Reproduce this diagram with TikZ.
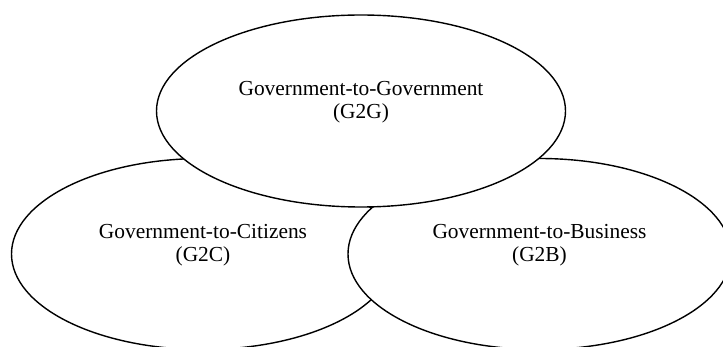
\documentclass[tikz,border=0pt]{standalone}
\usepackage{fontspec}
\setmainfont{Liberation Serif}
\usetikzlibrary{shapes.geometric}
\begin{document}
\begin{tikzpicture}[x=1pt,y=-1pt,
  oval/.style={ellipse, draw=black, fill=white, line width=1.4pt, inner sep=0pt},
  lower/.style={oval, minimum width=383pt, minimum height=191pt},
  caption/.style={align=center, font=\fontsize{21.4}{23}\selectfont, inner sep=0pt}]
\useasboundingbox (0,0) rectangle (723,347);
\clip (0,0) rectangle (723,347);
% the two lower ovals first, the upper one overlaps both
\node[lower] (g2c) at (203,254) {};
\node[lower] (g2b) at (539.5,254) {};
\node[oval, minimum width=409pt, minimum height=192pt] (g2g) at (361,111) {};
% labels sit a little above each oval's centre
\node[caption, yshift=8.35pt] (g2gtext) at (g2g.center) {Government-to-Government\\(G2G)};
\node[caption, yshift=8.35pt] (g2ctext) at (g2c.center) {Government-to-Citizens\\(G2C)};
\node[caption, yshift=8.35pt] (g2btext) at (g2b.center) {Government-to-Business\\(G2B)};
\end{tikzpicture}
\end{document}
